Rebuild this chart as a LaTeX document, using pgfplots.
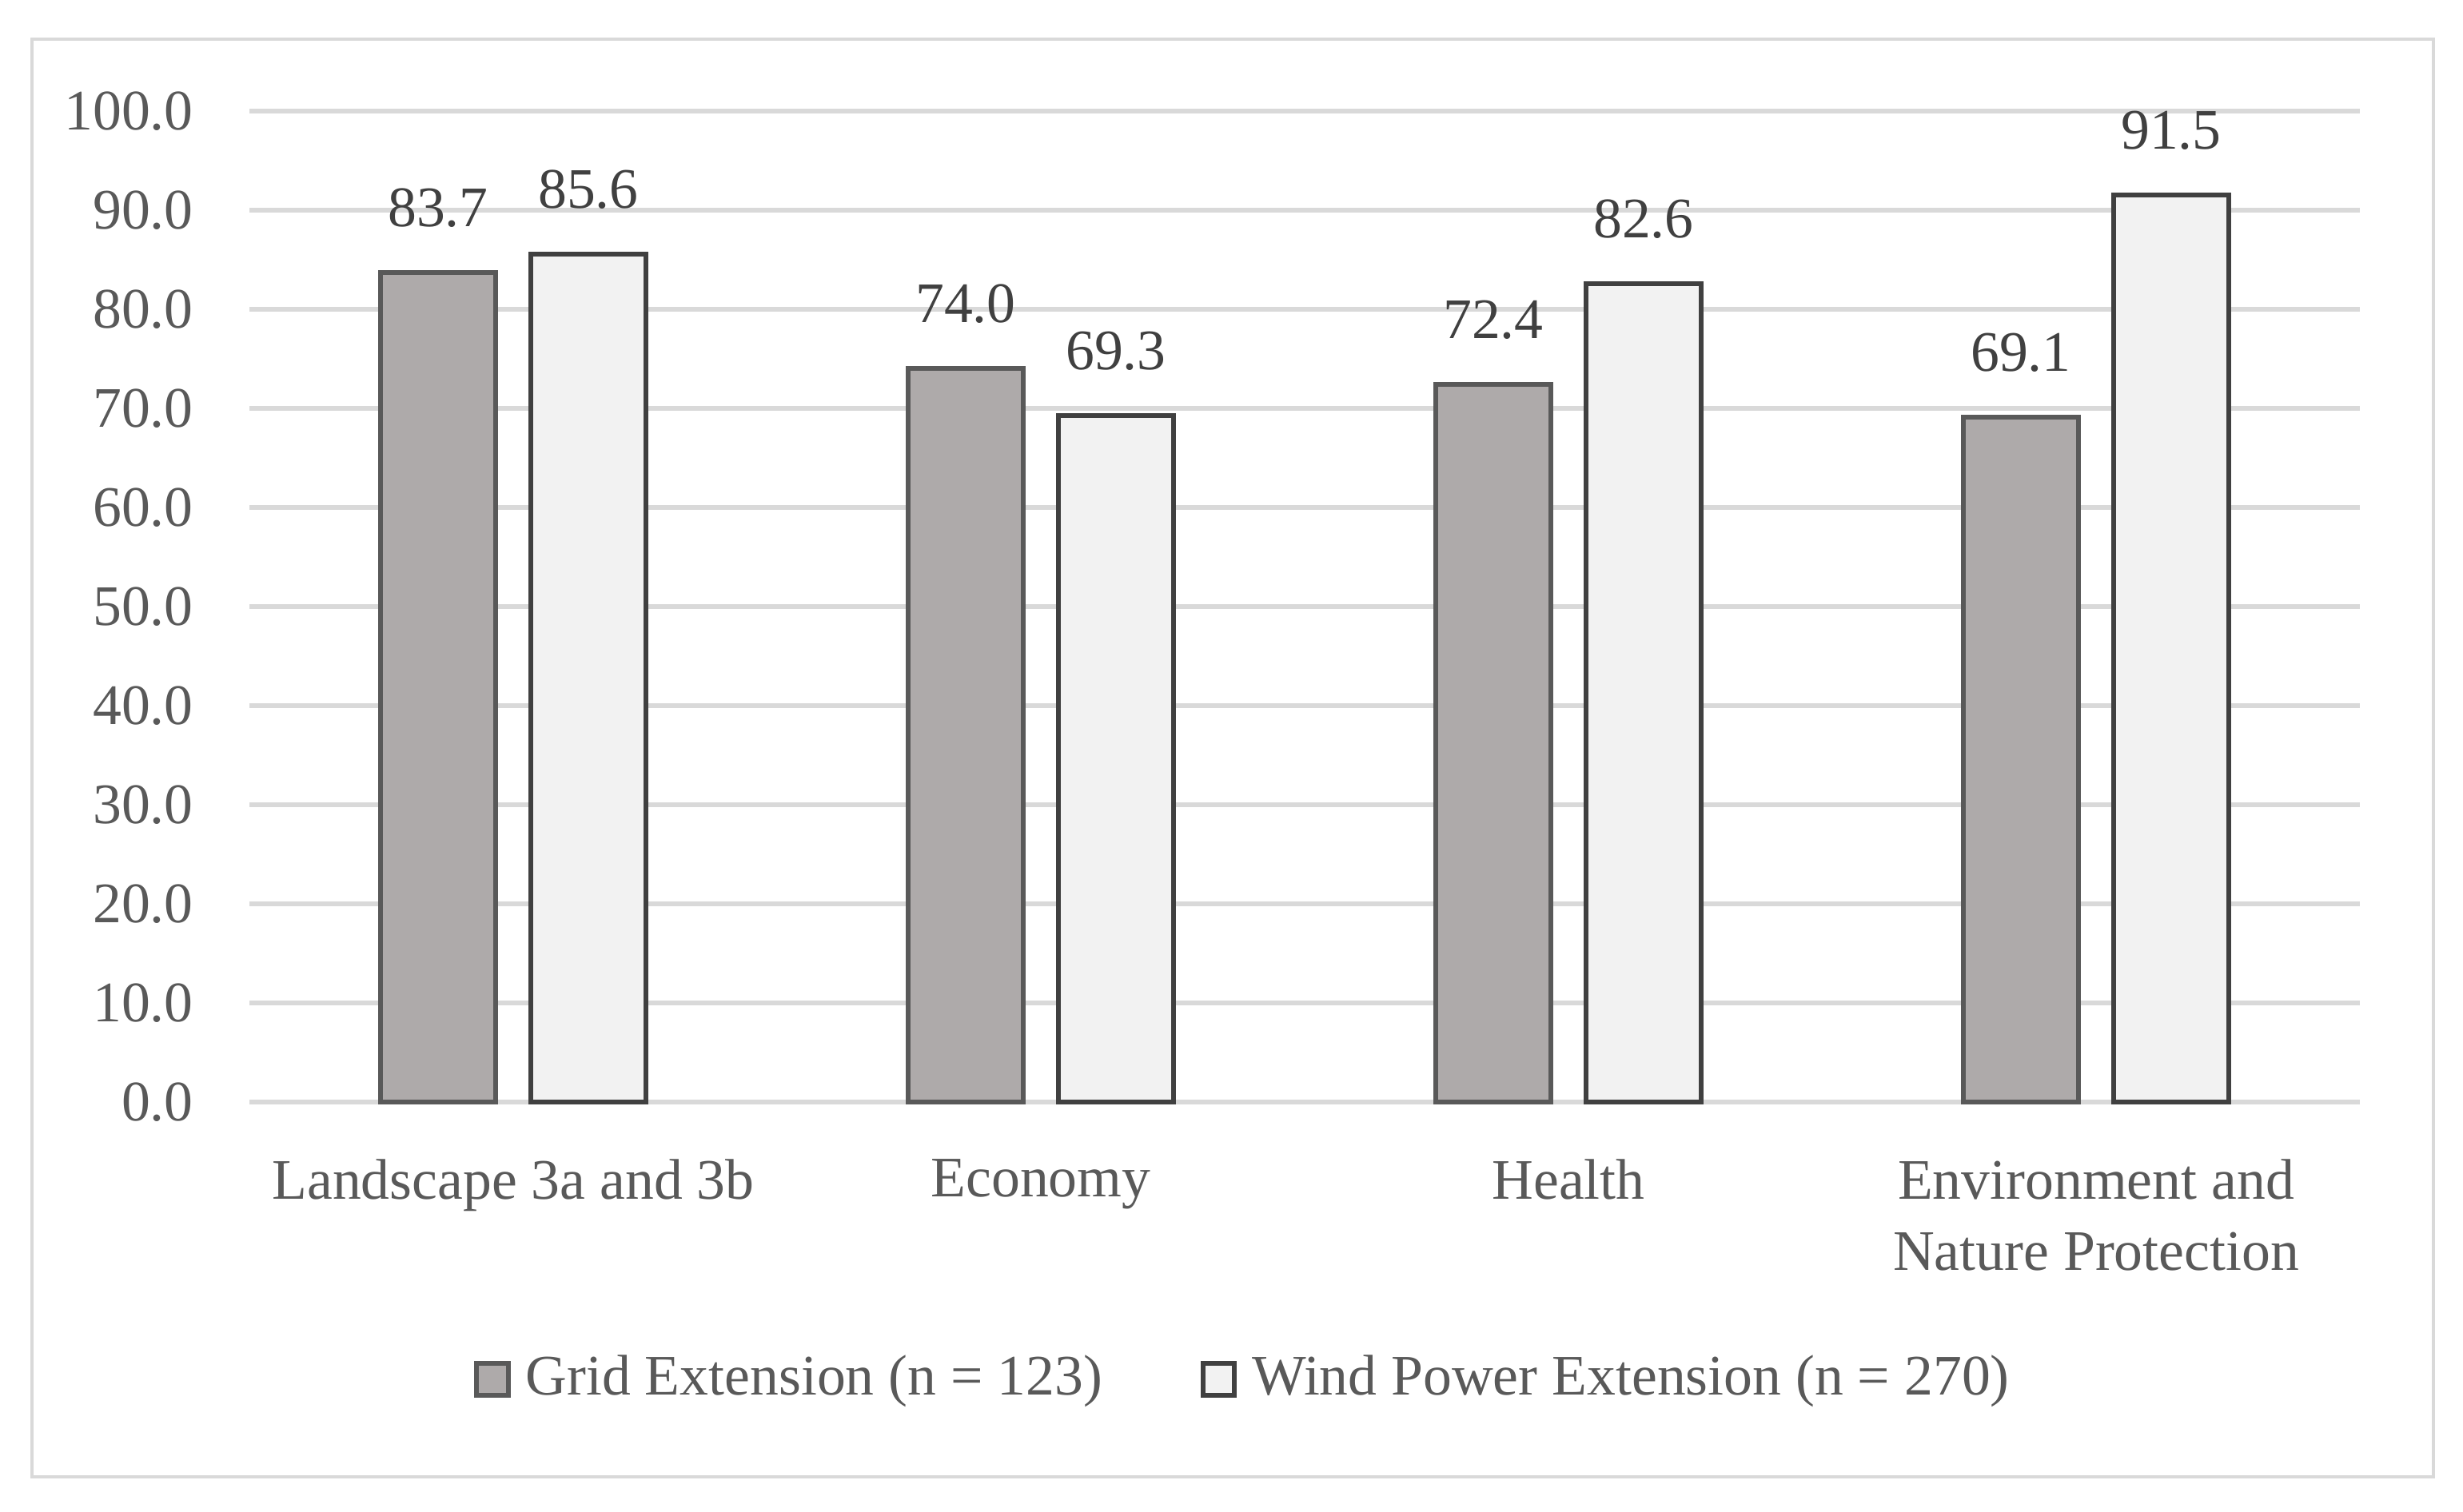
\documentclass[border=0pt]{standalone}
\usepackage{fontspec}
\setmainfont{Liberation Serif}
\usepackage{pgfplots}
\pgfplotsset{compat=1.18}
\definecolor{txtc}{HTML}{595959}
\definecolor{labc}{HTML}{404040}
\definecolor{gridc}{HTML}{D9D9D9}
\definecolor{barA}{HTML}{AEAAAA}
\definecolor{barB}{HTML}{F2F2F2}
\definecolor{edgeA}{HTML}{595959}
\definecolor{edgeB}{HTML}{404040}
\newcommand\cf{\fontsize{10.2pt}{12.6pt}\selectfont}
\pgfplotsset{sqleg/.style={legend image code/.code={\draw[##1, line width=0.85pt] (0.42pt,-2.8pt) rectangle (6.02pt,2.8pt); \path (8.7pt,0pt);}}}
\begin{document}
\begin{tikzpicture}
\useasboundingbox (-1.56,-2.56) rectangle (13.845,6.895);
\draw[gridc, line width=0.7pt] (-1.36,-2.345) rectangle (13.66,6.65);
\begin{axis}[
  at={(0,0)}, anchor=south west, scale only axis,
  width=13.2cm, height=6.2cm,
  xmin=-0.5, xmax=3.5, ymin=0, ymax=100,
  ybar, bar width=0.72cm,
  axis line style={draw=none},
  major tick length=0pt,
  ytick={0,10,...,100},
  ymajorgrids, grid style={gridc, line width=0.95pt},
  xtick={0,1,2,3},
  xticklabels={Landscape 3a and 3b, Economy, Health, {Environment and\\Nature Protection}},
  xticklabel style={font=\cf, text=txtc, align=center, anchor=north, inner sep=0pt, yshift=-10pt},
  yticklabel style={font=\cf, text=txtc, anchor=east, inner sep=0pt, xshift=-9.8pt},
  /pgf/number format/.cd, fixed, fixed zerofill, precision=1, assume math mode=true, /pgfplots/.cd,
  nodes near coords,
  nodes near coords style={font=\cf, text=labc, anchor=south, inner sep=0pt, yshift=7.6pt},
  clip=false,
  legend columns=2,
  legend style={at={(0.4703,-0.2798)}, anchor=center, draw=none, fill=none, inner sep=0pt,
    font=\cf, text=txtc, nodes={inner sep=0pt},
    /tikz/every even column/.append style={column sep=17.5pt}},
]
\addplot[fill=barA, draw=edgeA, line width=0.85pt, bar shift=-0.47cm, sqleg]
  coordinates {(0,83.7) (1,74.0) (2,72.4) (3,69.1)};
\addplot[fill=barB, draw=edgeB, line width=0.85pt, bar shift=0.47cm, sqleg]
  coordinates {(0,85.6) (1,69.3) (2,82.6) (3,91.5)};
\legend{Grid Extension (n = 123), Wind Power Extension (n = 270)}
\end{axis}
\end{tikzpicture}
\end{document}
